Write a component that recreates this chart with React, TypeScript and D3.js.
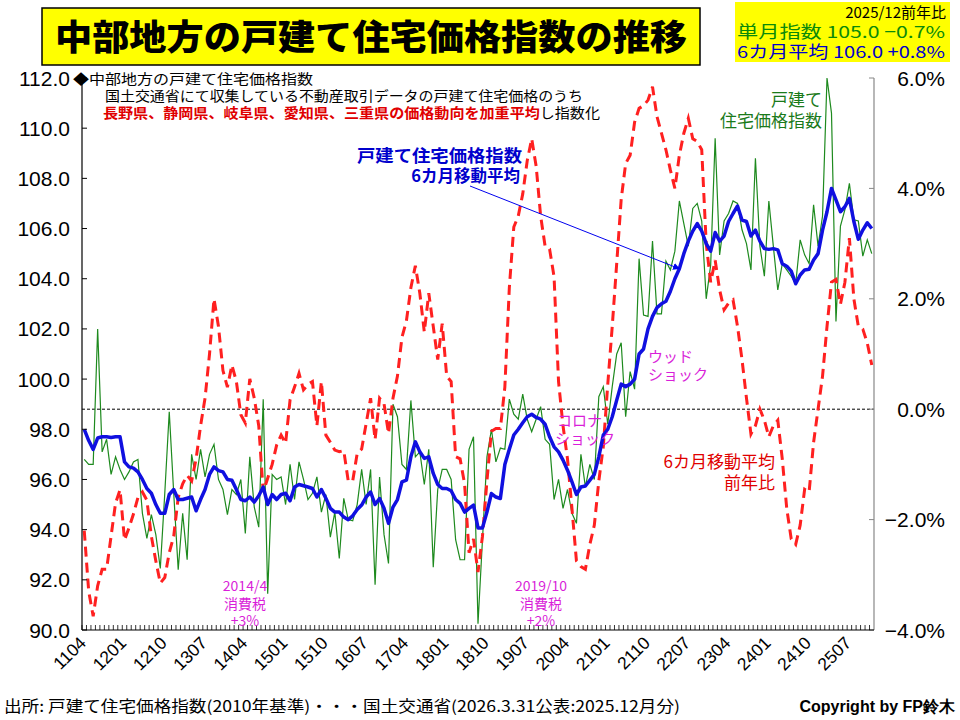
import * as d3 from "d3";
import * as React from "react";

// months 2011/04 .. 2025/12 (177 points)
const startYear = 2011;
const startMonth = 4;
const monthCount = 177;

const tickLabels = [
  "1104", "1201", "1210", "1307", "1404", "1501", "1510", "1607", "1704", "1801",
  "1810", "1907", "2004", "2101", "2110", "2207", "2304", "2401", "2410", "2507",
];

// 戸建て住宅価格指数 (monthly)
const indexValues = [
  96.8, 96.6, 96.6, 102.0, 97.1, 97.6, 96.2, 96.9, 96.4, 96.0,
  96.3, 96.7, 96.8, 94.65, 93.65, 94.6, 93.8, 92.45, 95.45, 98.7,
  95.45, 92.4, 94.65, 92.8, 97.0, 96.0, 97.2, 96.1, 97.0, 97.4,
  96.0, 95.6, 94.6, 95.6, 95.4, 96.0, 93.85, 96.9, 94.9, 94.1,
  99.2, 91.45, 96.2, 96.0, 96.1, 95.0, 96.6, 95.2, 96.7, 96.0,
  95.2, 95.45, 96.1, 94.7, 95.4, 93.7, 94.7, 92.85, 95.25, 94.4,
  94.35, 95.0, 96.4, 95.0, 96.4, 91.8, 96.1, 93.8, 92.65, 99.0,
  98.5, 96.6, 96.4, 99.15, 96.9, 97.1, 95.8, 97.2, 92.5, 95.6,
  96.4, 96.4, 96.0, 93.6, 92.8, 92.8, 97.2, 97.7, 90.25, 93.6,
  96.9, 98.0, 96.7, 97.25, 97.2, 99.2, 98.6, 98.4, 99.4, 98.4,
  97.9, 98.4, 98.9, 97.6, 97.4, 95.2, 96.0, 94.85, 95.6, 94.65,
  94.25, 97.0, 95.7, 96.6, 96.0, 99.3, 99.7, 98.2, 99.7, 101.0,
  101.45, 98.5, 100.3, 99.6, 104.8, 102.55, 102.5, 105.5, 102.6, 102.6,
  104.7, 104.35, 105.1, 107.1, 106.2, 105.3, 106.8, 107.0, 106.3, 103.2,
  104.55, 109.6, 104.95, 106.3, 106.6, 107.1, 107.0, 105.95, 105.4, 104.35,
  108.8, 105.3, 104.1, 107.1, 105.3, 103.55, 104.6, 104.35, 104.1, 103.8,
  105.55, 104.95, 104.6, 106.95, 105.3, 106.5, 112.0, 110.6, 102.3, 106.1,
  106.75, 107.8, 106.35, 106.3, 104.9, 105.55, 105.0,
];

// 6カ月移動平均
const ma6Values = [
  98.0, 97.55, 97.2, 97.65, 97.7, 97.7, 97.67, 97.7, 97.7, 96.7,
  96.5, 96.45, 96.3, 96.0, 95.64, 95.45, 95.0, 94.65, 94.65, 95.4,
  95.6, 95.2, 95.2, 95.25, 95.3, 94.75, 95.2, 95.6, 96.2, 96.5,
  96.35, 96.3, 96.0, 95.97, 95.6, 95.2, 95.15, 95.3, 95.1, 95.35,
  95.7, 95.0, 95.4, 95.2, 95.4, 95.45, 95.15, 95.7, 95.8, 95.75,
  95.7, 95.64, 95.3, 95.6, 95.25, 94.85, 94.7, 94.7, 94.5, 94.4,
  94.55, 94.8, 94.98, 95.3, 95.5, 95.0, 95.24, 94.85, 94.25, 94.9,
  95.2, 95.9, 95.97, 96.9, 97.5, 97.1, 96.84, 96.9, 96.24, 95.8,
  95.64, 95.64, 95.55, 95.2, 95.05, 94.7, 94.85, 94.98, 94.07, 94.07,
  94.7, 95.44, 95.3, 95.24, 96.6, 97.2, 97.77, 98.0, 98.26, 98.5,
  98.6, 98.47, 98.4, 98.2, 97.7, 97.3, 97.1, 96.77, 96.37, 95.9,
  95.4, 95.7, 95.74, 95.97, 96.2, 96.9, 97.77, 98.0, 98.5, 99.16,
  99.8, 99.7, 99.8, 100.0, 101.0, 101.2, 102.0, 102.5, 102.85, 103.0,
  103.1, 103.5, 104.0, 104.4, 105.0, 105.5, 105.9, 106.2, 105.9, 105.4,
  105.1, 105.84, 105.5, 105.7, 106.28, 106.6, 106.9, 106.34, 106.28, 105.7,
  105.94, 105.5, 105.2, 105.17, 105.2, 105.15, 104.6, 104.5, 104.3, 103.8,
  104.15, 104.35, 104.38, 104.75, 105.0, 105.94, 106.67, 107.6, 107.14, 106.67,
  106.87, 107.2, 106.28, 105.57, 105.94, 106.23, 106.0,
];

// 6カ月移動平均 前年比 (%)
const yoyValues = [
  -2.2, -3.3, -3.75, -3.2, -2.9, -2.9, -2.3, -1.7, -1.46, -2.37,
  -2.15, -1.9, -1.6, -1.5, -1.65, -2.3, -2.75, -3.15, -3.05, -2.6,
  -2.3, -1.6, -1.35, -1.2, -1.3, -0.9, -0.3, 0.2, 1.0, 2.0,
  1.5, 0.7, 0.4, 0.8, 0.5, -0.1, -0.25, 0.55, 0.2, -0.3,
  -1.5, -1.25, -1.0, -0.65, -0.47, -0.62, 0.17, 0.4, 0.65, 0.35,
  0.45, 0.5, -0.3, 0.5, -0.47, -0.6, -0.74, -0.77, -0.75, -1.3,
  -1.3, -0.8, -0.72, -0.26, 0.2, -0.55, 0.2, 0.1, -0.44, 0.2,
  0.6, 1.3, 1.6, 2.2, 2.6, 2.1, 1.4, 2.1, 1.5, 0.9,
  1.55, 0.6, 0.5, -0.86, -0.9, -1.35, -2.6, -2.35, -2.95, -2.3,
  -1.3, -0.4, -0.35, -0.35, 0.4, 2.2, 3.3, 3.5, 3.9, 4.5,
  4.9, 4.4, 3.5, 2.95, 2.9, 2.4, 0.5, -0.3, -0.9, -1.8,
  -2.75, -2.85, -2.9, -2.45, -2.1, -1.3, -0.68, 0.45, 1.5, 2.64,
  3.8, 4.45, 4.6, 5.2, 5.45, 5.5, 5.6, 5.84, 5.3, 5.0,
  4.7, 4.33, 4.0, 4.6, 5.0, 5.27, 4.9, 4.85, 4.7, 3.0,
  2.3, 2.7, 2.16, 1.8, 1.92, 1.98, 1.5, 0.9, 0.2, -0.45,
  -0.3, 0.0, -0.2, -0.5, -0.3, -0.2, -0.9, -1.8, -2.35, -2.45,
  -2.1, -1.45, -1.5, -0.6, 0.0, 0.6, 1.5, 2.3, 2.35, 1.9,
  2.3, 3.1, 2.0, 1.5, 1.45, 1.2, 0.8,
];

const leftTicks = [90, 92, 94, 96, 98, 100, 102, 104, 106, 108, 110, 112];
const rightTicks = [-4, -2, 0, 2, 4, 6];

const months: string[] = [];
for (let k = 0; k < monthCount; k++) {
  const t = (startMonth - 1) + k;
  const yy = (startYear + Math.floor(t / 12)) % 100;
  const mm = (t % 12) + 1;
  months.push(String(yy).padStart(2, "0") + String(mm).padStart(2, "0"));
}

const W = 960, H = 720;
const margin = { left: 82, right: 874, top: 78, bottom: 630 };
const jp = "'Noto Sans CJK JP', sans-serif";
const num = "'Liberation Sans', Arial, sans-serif";
const magenta = "#d91fd9";

export default function App() {
  const x = d3.scaleBand<string>().domain(months).range([margin.left, margin.right]);
  const bw = x.bandwidth();
  const cx = (i: number) => (x(months[i]) as number) + bw / 2;
  const yL = d3.scaleLinear().domain([90, 112]).range([margin.bottom, margin.top]);
  const yR = d3.scaleLinear().domain([-4, 6]).range([margin.bottom, margin.top]);

  const lineL = d3.line<number>().x((d, i) => cx(i)).y((d) => yL(d));
  const lineR = d3.line<number>().x((d, i) => cx(i)).y((d) => yR(d));

  // arrow from the label points at the moving average line
  const arrowIdx = 133;
  const arrowTip = { x: cx(arrowIdx), y: yL(ma6Values[arrowIdx]) };

  return (
    <div style={{ position: "fixed", left: 0, top: 0 }}>
      <svg width={W} height={H} style={{ display: "block", background: "#fff" }}>
        <defs>
          <marker id="arr" viewBox="0 0 10 10" refX="9" refY="5" markerWidth="7" markerHeight="7" orient="auto">
            <path d="M0,0 L10,5 L0,10 z" fill="#0000ee" />
          </marker>
        </defs>

        {/* title */}
        <rect x={42} y={8} width={658} height={57} fill="#ffff00" stroke="#000" strokeWidth={1.5} />
        <text x={371} y={50} textAnchor="middle" fontFamily={jp} fontWeight={900} fontSize={35}
          textLength={632} lengthAdjust="spacingAndGlyphs">中部地方の戸建て住宅価格指数の推移</text>

        {/* info box */}
        <rect x={735} y={2} width={215} height={60} fill="#ffff00" />
        <text x={946} y={18} textAnchor="end" fontFamily={jp} fontSize={15}>2025/12前年比</text>
        <text x={737} y={38} fontFamily={jp} fontSize={16.5} fill="#0a8a0a" textLength={208} lengthAdjust="spacingAndGlyphs">単月指数 105.0 −0.7%</text>
        <text x={737} y={58} fontFamily={jp} fontSize={16.5} fill="#0000cc" textLength={208} lengthAdjust="spacingAndGlyphs">6カ月平均 106.0 +0.8%</text>

        {/* zero line */}
        <line x1={margin.left} x2={margin.right} y1={yR(0)} y2={yR(0)} stroke="#000" strokeWidth={1} strokeDasharray="3,2" />

        {/* series */}
        <path d={lineL(indexValues) || ""} fill="none" stroke="#1e8a1e" strokeWidth={1.2} />
        <path d={lineR(yoyValues) || ""} fill="none" stroke="#ff2020" strokeWidth={3} strokeDasharray="10,6" />
        <path d={lineL(ma6Values) || ""} fill="none" stroke="#1010e0" strokeWidth={3.5} strokeLinejoin="round" />

        {/* left axis */}
        <line x1={margin.left} x2={margin.left} y1={margin.top} y2={margin.bottom} stroke="#000" strokeWidth={1.2} />
        {leftTicks.map((t) => (
          <g key={"l" + t}>
            <line x1={margin.left} x2={margin.left + 5} y1={yL(t)} y2={yL(t)} stroke="#000" />
            <text x={70} y={yL(t) + 7.5} textAnchor="end" fontFamily={num} fontSize={21}>{t.toFixed(1)}</text>
          </g>
        ))}

        {/* right axis */}
        <line x1={margin.right} x2={margin.right} y1={margin.top} y2={margin.bottom} stroke="#888" strokeWidth={1.2} />
        {rightTicks.map((t) => (
          <g key={"r" + t}>
            <line x1={margin.right - 5} x2={margin.right} y1={yR(t)} y2={yR(t)} stroke="#888" />
            <text x={945} y={yR(t) + 7.5} textAnchor="end" fontFamily={num} fontSize={21}>
              {(t < 0 ? "−" + Math.abs(t).toFixed(1) : t.toFixed(1)) + "%"}
            </text>
          </g>
        ))}

        {/* bottom axis */}
        <line x1={margin.left} x2={margin.right} y1={margin.bottom} y2={margin.bottom} stroke="#000" strokeWidth={1.2} />
        {months.map((m) => (
          <line key={"t" + m} x1={x(m) as number} x2={x(m) as number} y1={margin.bottom} y2={margin.bottom - 5} stroke="#000" strokeWidth={0.8} />
        ))}
        {tickLabels.map((lab) => {
          const px = (x(lab) as number) + bw / 2 + 3;
          return (
            <text key={"x" + lab} transform={`translate(${px},${margin.bottom + 14}) rotate(-45)`} textAnchor="end"
              fontFamily={num} fontSize={17.5}>{lab}</text>
          );
        })}

        {/* notes */}
        <text x={73} y={84} fontFamily={jp} fontSize={14} textLength={240} lengthAdjust="spacingAndGlyphs">◆中部地方の戸建て住宅価格指数</text>
        <text x={105} y={101} fontFamily={jp} fontSize={14} textLength={478} lengthAdjust="spacingAndGlyphs">国土交通省にて収集している不動産取引データの戸建て住宅価格のうち</text>
        <text x={103} y={118} fontFamily={jp} fontSize={14} textLength={497} lengthAdjust="spacingAndGlyphs">
          <tspan fill="#e00000" fontWeight="bold">長野県、静岡県、岐阜県、愛知県、三重県の価格動向を加重平均</tspan>
          <tspan fill="#000">し指数化</tspan>
        </text>

        {/* series labels */}
        <text x={522} y={162} textAnchor="end" fontFamily={jp} fontSize={16.5} fontWeight="bold" fill="#0000cc"
          textLength={165} lengthAdjust="spacingAndGlyphs">戸建て住宅価格指数</text>
        <text x={520} y={182} textAnchor="end" fontFamily={jp} fontSize={16.5} fontWeight="bold" fill="#0000cc">6カ月移動平均</text>
        <line x1={470} y1={186} x2={arrowTip.x} y2={arrowTip.y} stroke="#0000ee" strokeWidth={1} markerEnd="url(#arr)" />

        <text x={822} y={106} textAnchor="end" fontFamily={jp} fontSize={17} fill="#1a7a1a">戸建て</text>
        <text x={822} y={127} textAnchor="end" fontFamily={jp} fontSize={17} fill="#1a7a1a">住宅価格指数</text>

        <text x={775} y={468} textAnchor="end" fontFamily={jp} fontSize={17} fill="#e00000">6カ月移動平均</text>
        <text x={775} y={489} textAnchor="end" fontFamily={jp} fontSize={17} fill="#e00000">前年比</text>

        <text x={648} y={362} fontFamily={jp} fontSize={15} fill={magenta}>ウッド</text>
        <text x={648} y={380} fontFamily={jp} fontSize={15} fill={magenta}>ショック</text>
        <text x={557} y={426} fontFamily={jp} fontSize={15} fill={magenta}>コロナ</text>
        <text x={555} y={444} fontFamily={jp} fontSize={15} fill={magenta}>ショック</text>

        {[{ cxp: 245, l1: "2014/4", l3: "+3%" }, { cxp: 541, l1: "2019/10", l3: "+2%" }].map((a) => (
          <g key={a.l1} fontFamily={jp} fontSize={14} fill={magenta} textAnchor="middle">
            <text x={a.cxp} y={591}>{a.l1}</text>
            <text x={a.cxp} y={609}>消費税</text>
            <text x={a.cxp} y={626}>{a.l3}</text>
          </g>
        ))}

        {/* footer */}
        <text x={4} y={712} fontFamily={jp} fontSize={15.5} textLength={676} lengthAdjust="spacingAndGlyphs">出所: 戸建て住宅価格指数(2010年基準)・・・国土交通省(2026.3.31公表:2025.12月分)</text>
        <text x={955} y={712} textAnchor="end" fontFamily={num} fontWeight="bold" fontSize={16}>Copyright by FP鈴木</text>
      </svg>
    </div>
  );
}
